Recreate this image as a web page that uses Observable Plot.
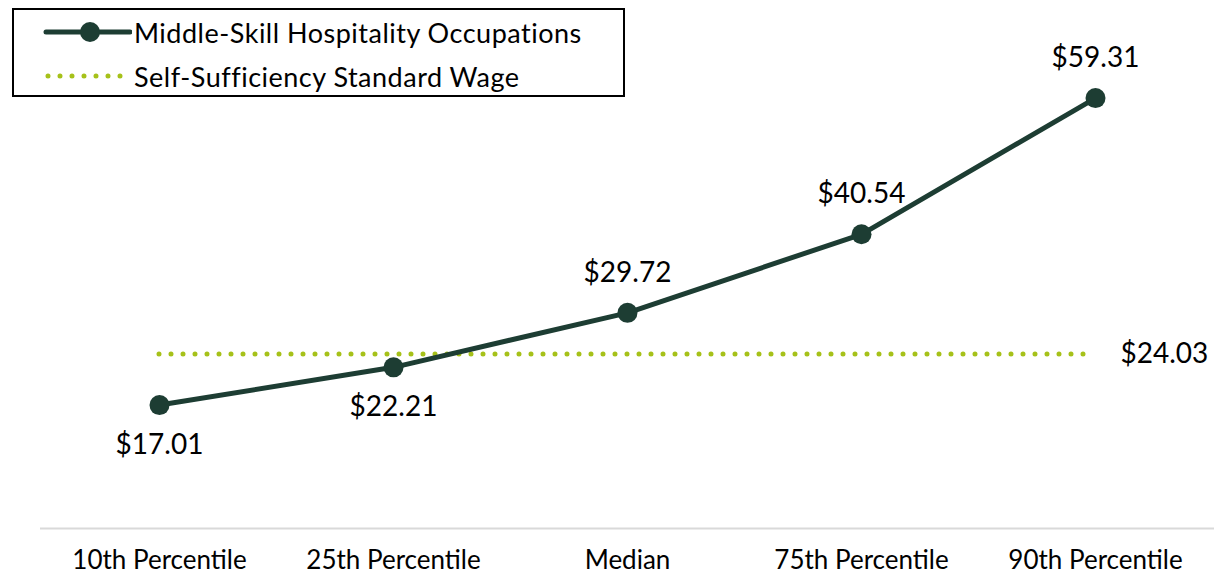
<!DOCTYPE html>
<html>
<head>
<meta charset="utf-8">
<script src="https://cdn.jsdelivr.net/npm/d3@7"></script>
<script src="https://cdn.jsdelivr.net/npm/@observablehq/plot@0.6"></script>
<style>
  html, body { margin: 0; padding: 0; background: #fff; }
  #wrap { position: relative; width: 1221px; height: 577px; font-family: Lato, "Open Sans", sans-serif; }
  #legend { position: absolute; left: 12px; top: 8px; width: 609px; height: 85px; border: 2px solid #000; background: #fff; box-sizing: content-box; }
  .lg-row { position: absolute; left: 0; height: 34px; display: flex; align-items: center; font-size: 27px; letter-spacing: 0.5px; color: #000; white-space: nowrap; }
</style>
</head>
<body>
<div id="wrap"></div>
<script>
const categories = ["10th Percentile", "25th Percentile", "Median", "75th Percentile", "90th Percentile"];
const wages = [17.01, 22.21, 29.72, 40.54, 59.31];
const standardWage = 24.03;
const seriesName = "Middle-Skill Hospitality Occupations";
const standardName = "Self-Sufficiency Standard Wage";

const lineColor = "#1d3d33";
const dotColor = "#a6c119";

const data = categories.map((c, i) => ({category: c, wage: wages[i]}));
const fmt = v => "$" + v.toFixed(2);
const firstCat = categories[0];
const lastCat = categories[categories.length - 1];

const chart = Plot.plot({
  width: 1221,
  height: 577,
  marginLeft: 40,
  marginRight: 7,
  marginTop: 20,
  marginBottom: 49,
  style: {fontFamily: "Lato, 'Open Sans', sans-serif", background: "#fff", color: "#000"},
  x: {type: "point", domain: categories, padding: 0.5, label: null},
  y: {domain: [0, 70], axis: null},
  marks: [
    Plot.ruleY([0], {stroke: "#d9d9d9", strokeWidth: 2}),
    Plot.axisX({tickSize: 0, tickPadding: 22, fontSize: 26, label: null}),
    Plot.ruleY([standardWage], {x1: () => firstCat, x2: () => lastCat, y: d => d, stroke: dotColor, strokeWidth: 5, strokeDasharray: "0 12", strokeLinecap: "round"}),
    Plot.text([standardWage], {x: () => lastCat, y: d => d, text: d => fmt(d), dx: 25, textAnchor: "start", fontSize: 28, fill: "#000"}),
    Plot.line(data, {x: "category", y: "wage", stroke: lineColor, strokeWidth: 5}),
    Plot.dot(data, {x: "category", y: "wage", r: 10, fill: lineColor, stroke: "none"}),
    Plot.text(data.filter(d => d.wage < standardWage), {x: "category", y: "wage", text: d => fmt(d.wage), dy: 40, fontSize: 28, fill: "#000"}),
    Plot.text(data.filter(d => d.wage >= standardWage), {x: "category", y: "wage", text: d => fmt(d.wage), dy: -40, fontSize: 28, fill: "#000"})
  ]
});

const wrap = document.getElementById("wrap");
wrap.appendChild(chart);

const legend = document.createElement("div");
legend.id = "legend";
legend.innerHTML = `
  <div class="lg-row" style="top:5px;">
    <svg width="90" height="30" style="margin-left:28px">
      <line x1="4" x2="88" y1="15" y2="15" stroke="${lineColor}" stroke-width="5" stroke-linecap="round"/>
      <circle cx="48" cy="15" r="10" fill="${lineColor}"/>
    </svg><span style="margin-left:2px">${seriesName}</span>
  </div>
  <div class="lg-row" style="top:49px;">
    <svg width="90" height="30" style="margin-left:28px">
      <line x1="6" x2="88" y1="15" y2="15" stroke="${dotColor}" stroke-width="5" stroke-dasharray="0 12" stroke-linecap="round"/>
    </svg><span style="margin-left:2px">${standardName}</span>
  </div>`;
wrap.appendChild(legend);
</script>
</body>
</html>
